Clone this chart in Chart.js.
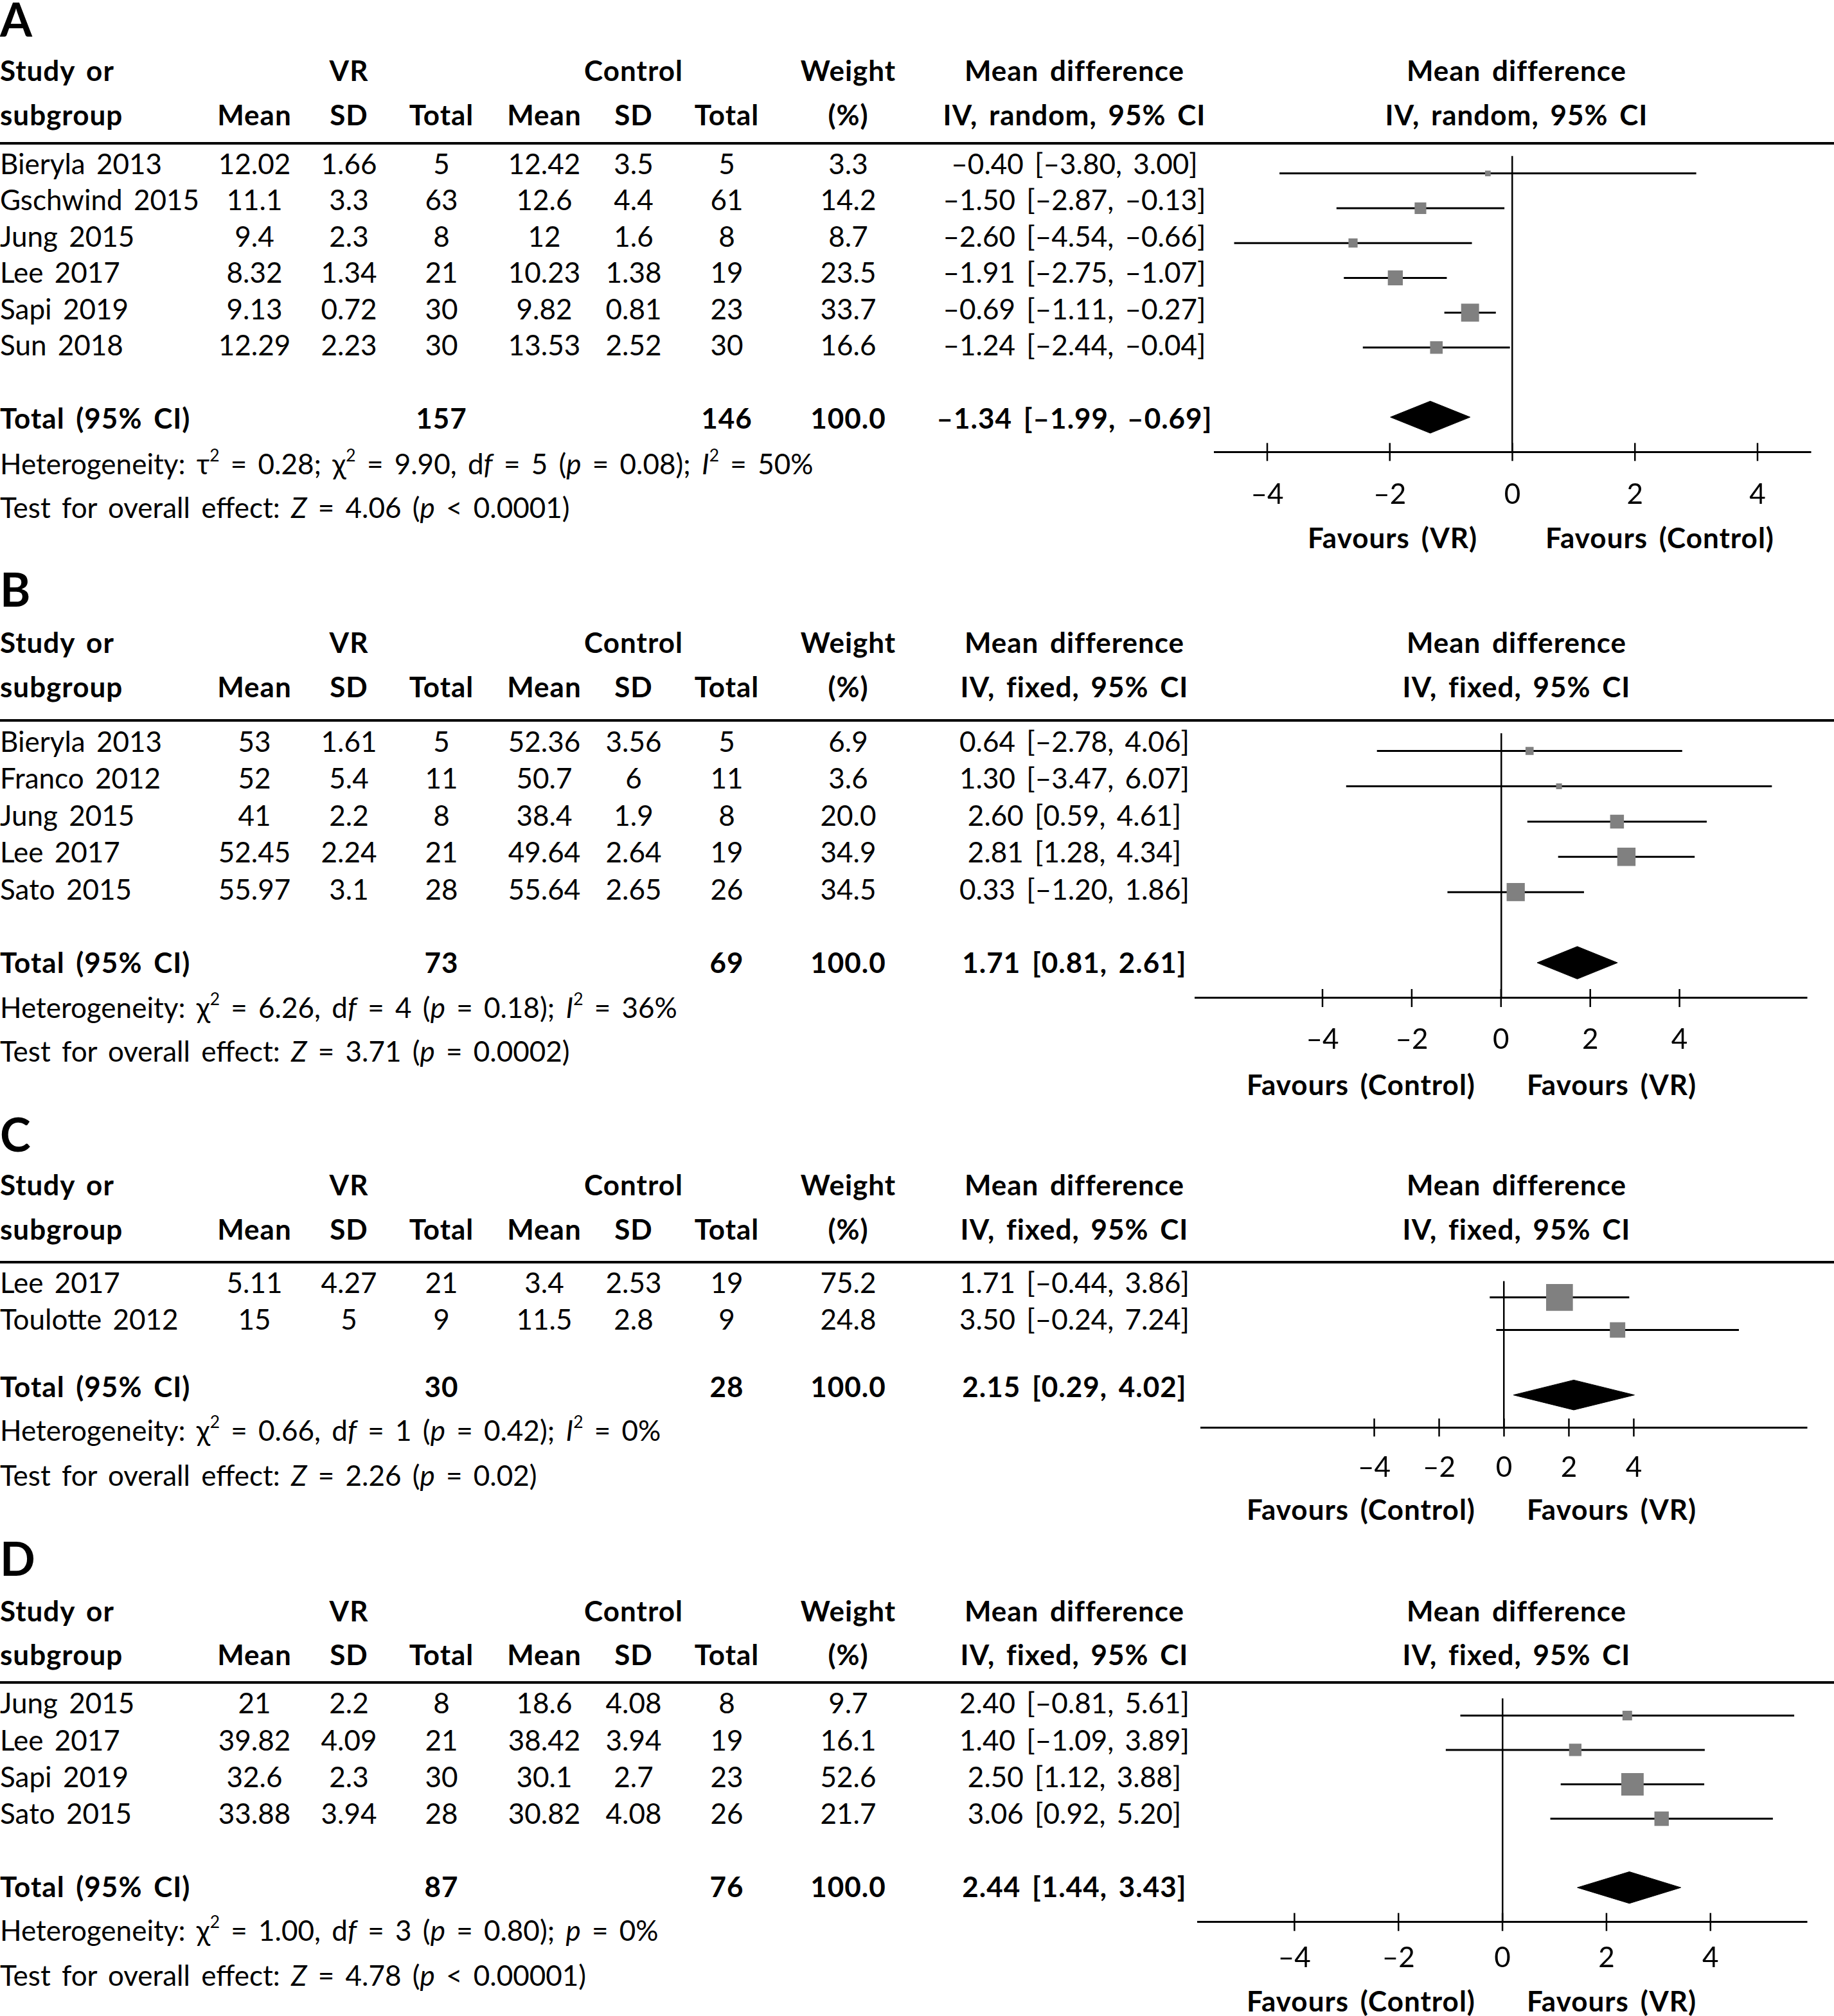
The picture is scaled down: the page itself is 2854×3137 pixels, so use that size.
<!DOCTYPE html>
<html>
<head>
<meta charset="utf-8">
<script src="https://cdn.jsdelivr.net/npm/chart.js@4.4.1/dist/chart.umd.min.js"></script>
<style>
  html, body { margin: 0; padding: 0; background: #fff; }
  #fig { position: relative; width: 2854px; height: 3137px; overflow: hidden; font-family: Lato, "Open Sans", sans-serif; color: #000; }
  .t { position: absolute; white-space: nowrap; font-size: 44px; line-height: 44px; height: 44px; word-spacing: 6px; }
  .b { font-weight: 700; letter-spacing: 1px; }
  .c { transform: translateX(-50%); }
  .letter { font-size: 72px; line-height: 72px; height: 72px; font-weight: 700; letter-spacing: 0; }
  .rule { position: absolute; left: 0; width: 2854px; height: 4px; background: #000; }
  .sup { font-size: 0.6em; position: relative; top: -0.75em; }
  canvas { position: absolute; }
</style>
</head>
<body>
<div id="fig"></div>
<script>
const FONT = "Lato";
const TICKS = [-4, -2, 0, 2, 4];

// A: random effects
const A_STUDY = ["Bieryla 2013", "Gschwind 2015", "Jung 2015", "Lee 2017", "Sapi 2019", "Sun 2018"];
const A_VR_MEAN = [12.02, 11.1, 9.4, 8.32, 9.13, 12.29];
const A_VR_SD = [1.66, 3.3, 2.3, 1.34, 0.72, 2.23];
const A_VR_N = [5, 63, 8, 21, 30, 30];
const A_CT_MEAN = [12.42, 12.6, 12, 10.23, 9.82, 13.53];
const A_CT_SD = [3.5, 4.4, 1.6, 1.38, 0.81, 2.52];
const A_CT_N = [5, 61, 8, 19, 23, 30];
const A_WEIGHT = [3.3, 14.2, 8.7, 23.5, 33.7, 16.6];
const A_MD = [-0.40, -1.50, -2.60, -1.91, -0.69, -1.24];
const A_LO = [-3.80, -2.87, -4.54, -2.75, -1.11, -2.44];
const A_HI = [3.00, -0.13, -0.66, -1.07, -0.27, -0.04];
const A_TOTAL_N = [157, 146];
const A_TOTAL_MD = [-1.34, -1.99, -0.69];
const A_HET = 'Heterogeneity: τ<span class="sup">2</span> = 0.28; χ<span class="sup">2</span> = 9.90, d<i>f</i> = 5 (<i>p</i> = 0.08); <i>I</i><span class="sup">2</span> = 50%';
const A_TEST = 'Test for overall effect: <i>Z</i> = 4.06 (<i>p</i> &lt; 0.0001)';
const A_FAVOURS = ["Favours (VR)", "Favours (Control)"];

// B
const B_STUDY = ["Bieryla 2013", "Franco 2012", "Jung 2015", "Lee 2017", "Sato 2015"];
const B_VR_MEAN = [53, 52, 41, 52.45, 55.97];
const B_VR_SD = [1.61, 5.4, 2.2, 2.24, 3.1];
const B_VR_N = [5, 11, 8, 21, 28];
const B_CT_MEAN = [52.36, 50.7, 38.4, 49.64, 55.64];
const B_CT_SD = [3.56, 6, 1.9, 2.64, 2.65];
const B_CT_N = [5, 11, 8, 19, 26];
const B_WEIGHT = [6.9, 3.6, 20.0, 34.9, 34.5];
const B_MD = [0.64, 1.30, 2.60, 2.81, 0.33];
const B_LO = [-2.78, -3.47, 0.59, 1.28, -1.20];
const B_HI = [4.06, 6.07, 4.61, 4.34, 1.86];
const B_TOTAL_N = [73, 69];
const B_TOTAL_MD = [1.71, 0.81, 2.61];
const B_HET = 'Heterogeneity: χ<span class="sup">2</span> = 6.26, d<i>f</i> = 4 (<i>p</i> = 0.18); <i>I</i><span class="sup">2</span> = 36%';
const B_TEST = 'Test for overall effect: <i>Z</i> = 3.71 (<i>p</i> = 0.0002)';
const B_FAVOURS = ["Favours (Control)", "Favours (VR)"];

// C
const C_STUDY = ["Lee 2017", "Toulotte 2012"];
const C_VR_MEAN = [5.11, 15];
const C_VR_SD = [4.27, 5];
const C_VR_N = [21, 9];
const C_CT_MEAN = [3.4, 11.5];
const C_CT_SD = [2.53, 2.8];
const C_CT_N = [19, 9];
const C_WEIGHT = [75.2, 24.8];
const C_MD = [1.71, 3.50];
const C_LO = [-0.44, -0.24];
const C_HI = [3.86, 7.24];
const C_TOTAL_N = [30, 28];
const C_TOTAL_MD = [2.15, 0.29, 4.02];
const C_HET = 'Heterogeneity: χ<span class="sup">2</span> = 0.66, d<i>f</i> = 1 (<i>p</i> = 0.42); <i>I</i><span class="sup">2</span> = 0%';
const C_TEST = 'Test for overall effect: <i>Z</i> = 2.26 (<i>p</i> = 0.02)';
const C_FAVOURS = ["Favours (Control)", "Favours (VR)"];

// D
const D_STUDY = ["Jung 2015", "Lee 2017", "Sapi 2019", "Sato 2015"];
const D_VR_MEAN = [21, 39.82, 32.6, 33.88];
const D_VR_SD = [2.2, 4.09, 2.3, 3.94];
const D_VR_N = [8, 21, 30, 28];
const D_CT_MEAN = [18.6, 38.42, 30.1, 30.82];
const D_CT_SD = [4.08, 3.94, 2.7, 4.08];
const D_CT_N = [8, 19, 23, 26];
const D_WEIGHT = [9.7, 16.1, 52.6, 21.7];
const D_MD = [2.40, 1.40, 2.50, 3.06];
const D_LO = [-0.81, -1.09, 1.12, 0.92];
const D_HI = [5.61, 3.89, 3.88, 5.20];
const D_TOTAL_N = [87, 76];
const D_TOTAL_MD = [2.44, 1.44, 3.43];
const D_HET = 'Heterogeneity: χ<span class="sup">2</span> = 1.00, d<i>f</i> = 3 (<i>p</i> = 0.80); <i>p</i> = 0%';
const D_TEST = 'Test for overall effect: <i>Z</i> = 4.78 (<i>p</i> &lt; 0.00001)';
const D_FAVOURS = ["Favours (Control)", "Favours (VR)"];

// table columns (centres) and forest placement
const COLS = [396, 543, 687, 847, 986, 1131, 1320, 1672];
const FOREST_X = 2360;
const CANVAS_LEFT = 1840;
const BOX = 3.4;   // square radius per sqrt(weight)
const DIA = 0.46;  // diamond half height, in rows

const panels = [
  { letter: "A", method: "IV, random, 95% CI", study: A_STUDY, cols: [A_VR_MEAN, A_VR_SD, A_VR_N, A_CT_MEAN, A_CT_SD, A_CT_N],
    weight: A_WEIGHT, md: A_MD, lo: A_LO, hi: A_HI, totalN: A_TOTAL_N, totalMd: A_TOTAL_MD, het: A_HET, test: A_TEST, favours: A_FAVOURS,
    lay: { letterY: 31, h1: 110, h2: 179, rule: 222.7, axis: 703, totalY: 651, het: 722, test: 790, tickPad: 40, favY: 837, favX: [2167, 2583], padL: 50, padR: 37, xr: 4.86 } },
  { letter: "B", method: "IV, fixed, 95% CI", study: B_STUDY, cols: [B_VR_MEAN, B_VR_SD, B_VR_N, B_CT_MEAN, B_CT_SD, B_CT_N],
    weight: B_WEIGHT, md: B_MD, lo: B_LO, hi: B_HI, totalN: B_TOTAL_N, totalMd: B_TOTAL_MD, het: B_HET, test: B_TEST, favours: B_FAVOURS,
    lay: { letterY: 918, h1: 1000, h2: 1069, rule: 1121, axis: 1553, totalY: 1498, het: 1568, test: 1636, tickPad: 38, favY: 1688, favX: [2118, 2508], padL: 17.5, padR: 42.5, xr: 6.85 } },
  { letter: "C", method: "IV, fixed, 95% CI", study: C_STUDY, cols: [C_VR_MEAN, C_VR_SD, C_VR_N, C_CT_MEAN, C_CT_SD, C_CT_N],
    weight: C_WEIGHT, md: C_MD, lo: C_LO, hi: C_HI, totalN: C_TOTAL_N, totalMd: C_TOTAL_MD, het: C_HET, test: C_TEST, favours: C_FAVOURS,
    lay: { letterY: 1766, h1: 1844, h2: 1913, rule: 1963.7, axis: 2221, totalY: 2158, het: 2226, test: 2296, tickPad: 36.5, favY: 2349, favX: [2118, 2508], padL: 17.5, padR: 42.5, xr: 9.33 } },
  { letter: "D", method: "IV, fixed, 95% CI", study: D_STUDY, cols: [D_VR_MEAN, D_VR_SD, D_VR_N, D_CT_MEAN, D_CT_SD, D_CT_N],
    weight: D_WEIGHT, md: D_MD, lo: D_LO, hi: D_HI, totalN: D_TOTAL_N, totalMd: D_TOTAL_MD, het: D_HET, test: D_TEST, favours: D_FAVOURS,
    lay: { letterY: 2426, h1: 2507, h2: 2575, rule: 2617.7, axis: 2990.4, totalY: 2936, het: 3004, test: 3074, tickPad: 30, favY: 3114, favX: [2118, 2508], padL: 17.5, padR: 42.5, xr: 5.85 } }
];

const fig = document.getElementById("fig");
const dash = v => (v < 0 ? "–" : "") + Math.abs(v).toFixed(2);
const ciText = (m, l, h) => `${dash(m)} [${dash(l)}, ${dash(h)}]`;

function text(html, x, y, opts = {}) {
  const el = document.createElement("div");
  const size = opts.size || 44;
  el.className = "t" + (opts.bold ? " b" : "") + (opts.center ? " c" : "") + (opts.cls ? " " + opts.cls : "");
  el.innerHTML = html;
  el.style.left = x + "px";
  el.style.top = (y - 0.527 * size) + "px";
  fig.appendChild(el);
}

function rule(y) {
  const el = document.createElement("div");
  el.className = "rule";
  el.style.top = (y - 2) + "px";
  fig.appendChild(el);
}

const crossTicks = {
  id: "crossTicks",
  afterDraw(chart) {
    const x = chart.scales.x, yb = chart.chartArea.bottom, ctx = chart.ctx;
    ctx.save();
    ctx.strokeStyle = "#000";
    ctx.lineWidth = 2.5;
    x.ticks.forEach(t => {
      const px = x.getPixelForValue(t.value);
      ctx.beginPath();
      ctx.moveTo(px, yb - 14);
      ctx.lineTo(px, yb + 14);
      ctx.stroke();
    });
    ctx.restore();
  }
};

function forest(p) {
  const L = p.lay, n = p.study.length;
  const axisH = 44 * 1.2 + 2 * L.tickPad;
  const exactH = L.axis - L.rule + axisH;
  const H = Math.ceil(exactH);
  const cv = document.createElement("canvas");
  cv.width = 2854 - CANVAS_LEFT;
  cv.height = H;
  cv.style.left = CANVAS_LEFT + "px";
  cv.style.top = L.rule + "px";
  fig.appendChild(cv);

  const datasets = [];
  p.lo.forEach((lo, i) => datasets.push({
    data: [{ x: lo, y: i }, { x: p.hi[i], y: i }],
    showLine: true, borderColor: "#000", borderWidth: 3, pointRadius: 0, order: 1
  }));
  datasets.push({
    data: p.md.map((m, i) => ({ x: m, y: i })),
    pointStyle: "rect", pointRadius: p.weight.map(w => BOX * Math.sqrt(w)),
    backgroundColor: "#808080", borderWidth: 0, order: 0
  });
  const t = n + 1;
  const [tm, tl, th] = p.totalMd;
  datasets.push({
    data: [{ x: tl, y: t }, { x: tm, y: t - DIA }, { x: th, y: t }, { x: tm, y: t + DIA }, { x: tl, y: t }],
    showLine: true, fill: "shape", backgroundColor: "#000", borderColor: "#000", borderWidth: 1, pointRadius: 0, order: 0
  });

  new Chart(cv, {
    type: "scatter",
    data: { datasets },
    options: {
      responsive: false,
      animation: false,
      events: [],
      layout: { padding: { left: L.padL, right: L.padR, top: 0, bottom: H - exactH } },
      plugins: { legend: { display: false }, tooltip: { enabled: false } },
      scales: {
        x: {
          type: "linear", min: -L.xr, max: L.xr, bounds: "data",
          afterBuildTicks: axis => { axis.ticks = TICKS.map(v => ({ value: v })); },
          grid: {
            drawTicks: false,
            color: c => (c.tick && c.tick.value === 0 ? "#000" : "rgba(0,0,0,0)"),
            lineWidth: 2.5
          },
          border: { display: true, color: "#000", width: 3 },
          ticks: {
            padding: L.tickPad, color: "#000", autoSkip: false, maxRotation: 0,
            font: { family: FONT, size: 44 },
            callback: v => (v < 0 ? "–" + Math.abs(v) : String(v))
          }
        },
        y: { type: "linear", reverse: true, min: -0.5, max: n + 2, bounds: "data", display: false }
      }
    },
    plugins: [crossTicks]
  });
}

panels.forEach(p => {
  const L = p.lay, n = p.study.length;
  const rowH = (L.axis - L.rule) / (n + 2.5);
  const rowY = i => L.rule + (i + 0.5) * rowH + 4;

  text(p.letter, 0, L.letterY, { cls: "letter", size: 72 });

  // header
  text("Study or", 0, L.h1, { bold: true });
  text("VR", COLS[1], L.h1, { bold: true, center: true });
  text("Control", COLS[4], L.h1, { bold: true, center: true });
  text("Weight", COLS[6], L.h1, { bold: true, center: true });
  text("Mean difference", COLS[7], L.h1, { bold: true, center: true });
  text("Mean difference", FOREST_X, L.h1, { bold: true, center: true });
  text("subgroup", 0, L.h2, { bold: true });
  ["Mean", "SD", "Total", "Mean", "SD", "Total", "(%)", p.method].forEach((h, k) =>
    text(h, COLS[k], L.h2, { bold: true, center: true }));
  text(p.method, FOREST_X, L.h2, { bold: true, center: true });
  rule(L.rule);

  // study rows
  p.study.forEach((s, i) => {
    const y = rowY(i);
    text(s, 0, y);
    p.cols.forEach((col, k) => text(String(col[i]), COLS[k], y, { center: true }));
    text(p.weight[i].toFixed(1), COLS[6], y, { center: true });
    text(ciText(p.md[i], p.lo[i], p.hi[i]), COLS[7], y, { center: true });
  });

  // total row
  text("Total (95% CI)", 0, L.totalY, { bold: true });
  text(String(p.totalN[0]), COLS[2], L.totalY, { bold: true, center: true });
  text(String(p.totalN[1]), COLS[5], L.totalY, { bold: true, center: true });
  text("100.0", COLS[6], L.totalY, { bold: true, center: true });
  text(ciText(...p.totalMd), COLS[7], L.totalY, { bold: true, center: true });

  text(p.het, 0, L.het);
  text(p.test, 0, L.test);

  text(p.favours[0], L.favX[0], L.favY, { bold: true, center: true });
  text(p.favours[1], L.favX[1], L.favY, { bold: true, center: true });

  forest(p);
});
</script>
</body>
</html>
